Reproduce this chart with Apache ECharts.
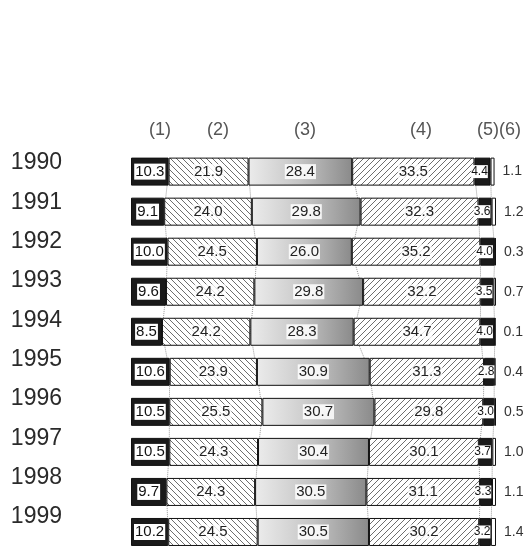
<!DOCTYPE html>
<html>
<head>
<meta charset="utf-8">
<script src="https://cdn.jsdelivr.net/npm/echarts@6/dist/echarts.min.js"></script>
<style>
  html, body { margin: 0; background: #fff; }
  #chart { width: 528px; height: 552px; }
</style>
</head>
<body>
<div id="chart"></div>
<script>
// shares per year, (1)..(6)
const years = ['1990', '1991', '1992', '1993', '1994', '1995', '1996', '1997', '1998', '1999'];
const s1 = [10.3, 9.1, 10.0, 9.6, 8.5, 10.6, 10.5, 10.5, 9.7, 10.2];
const s2 = [21.9, 24.0, 24.5, 24.2, 24.2, 23.9, 25.5, 24.3, 24.3, 24.5];
const s3 = [28.4, 29.8, 26.0, 29.8, 28.3, 30.9, 30.7, 30.4, 30.5, 30.5];
const s4 = [33.5, 32.3, 35.2, 32.2, 34.7, 31.3, 29.8, 30.1, 31.1, 30.2];
const s5 = [4.4, 3.6, 4.0, 3.5, 4.0, 2.8, 3.0, 3.7, 3.3, 3.2];
const s6 = [1.1, 1.2, 0.3, 0.7, 0.1, 0.4, 0.5, 1.0, 1.1, 1.4];
const headers = ['(1)', '(2)', '(3)', '(4)', '(5)(6)'];
const headerX = [160, 218, 305, 421, 499];

const FONT = '"Liberation Sans", Arial, sans-serif';

// diagonal hatch tile
const hatch = (forward) => {
  const s = 6;
  const c = document.createElement('canvas');
  c.width = s; c.height = s;
  const g = c.getContext('2d');
  g.fillStyle = '#fff';
  g.fillRect(0, 0, s, s);
  g.strokeStyle = '#6e6e6e';
  g.lineWidth = 1;
  g.beginPath();
  if (forward) {
    g.moveTo(0, s); g.lineTo(s, 0);
    g.moveTo(-1, 1); g.lineTo(1, -1);
    g.moveTo(s - 1, s + 1); g.lineTo(s + 1, s - 1);
  } else {
    g.moveTo(0, 0); g.lineTo(s, s);
    g.moveTo(-1, s - 1); g.lineTo(1, s + 1);
    g.moveTo(s - 1, -1); g.lineTo(s + 1, 1);
  }
  g.stroke();
  return c;
};

const fmt = (p) => p.value.toFixed(1);

const barBase = {
  type: 'bar',
  stack: 'total',
  xAxisIndex: 0,
  yAxisIndex: 0,
  barWidth: 28,
  z: 3,
  itemStyle: { borderColor: '#111', borderWidth: 1 },
};

const midLabel = {
  show: true, position: 'inside', formatter: fmt, fontSize: 15,
  color: '#222', backgroundColor: 'rgba(255,255,255,0.8)', padding: [0, 1],
};

// dotted connectors between segment boundaries
const parts = [s1, s2, s3, s4, s5];
const cum = years.map(() => 0);
const connectors = parts.map((arr) => {
  arr.forEach((v, i) => { cum[i] += v; });
  return {
    type: 'line',
    xAxisIndex: 0,
    yAxisIndex: 0,
    data: cum.map((v, i) => [v, i]),
    symbol: 'none',
    silent: true,
    z: 1,
    lineStyle: { color: '#999', width: 1, type: 'dotted' },
  };
});

const chart = echarts.init(document.getElementById('chart'));

chart.setOption({
  animation: false,
  backgroundColor: '#fff',
  textStyle: { fontFamily: FONT },
  grid: [
    { left: 131, width: 365, top: 151.6, height: 408.8 },
    { left: 70, width: 10, top: 143.3, height: 393.4 },
  ],
  xAxis: [
    { type: 'value', gridIndex: 0, min: 0, max: 100, show: false },
    { type: 'value', gridIndex: 1, show: false },
  ],
  yAxis: [
    { type: 'category', gridIndex: 0, data: years, inverse: true, show: false },
    {
      type: 'category', gridIndex: 1, data: years, inverse: true,
      axisLine: { show: false }, axisTick: { show: false },
      axisLabel: { fontSize: 23, color: '#2a2a2a', margin: 8, fontFamily: FONT },
    },
  ],
  graphic: headers.map((t, i) => ({
    type: 'text',
    x: headerX[i],
    y: 130,
    style: {
      text: t, fill: '#555', fontSize: 18, fontFamily: FONT,
      align: 'center', verticalAlign: 'middle',
    },
  })),
  series: [
    ...connectors,
    {
      ...barBase, name: '(1)', data: s1,
      itemStyle: { ...barBase.itemStyle, color: '#1a1a1a' },
      label: {
        show: true, position: 'inside', formatter: fmt, fontSize: 15,
        color: '#111', backgroundColor: '#fff', padding: [1, 1, 0, 1],
      },
    },
    {
      ...barBase, name: '(2)', data: s2,
      itemStyle: { ...barBase.itemStyle, color: { image: hatch(false), repeat: 'repeat' } },
      label: midLabel,
    },
    {
      ...barBase, name: '(3)', data: s3,
      itemStyle: {
        ...barBase.itemStyle,
        color: {
          type: 'linear', x: 0, y: 0, x2: 1, y2: 0,
          colorStops: [
            { offset: 0, color: '#ebebeb' },
            { offset: 0.5, color: '#c4c4c4' },
            { offset: 1, color: '#8a8a8a' },
          ],
        },
      },
      label: { ...midLabel, backgroundColor: 'rgba(255,255,255,0.85)' },
    },
    {
      ...barBase, name: '(4)', data: s4,
      itemStyle: { ...barBase.itemStyle, color: { image: hatch(true), repeat: 'repeat' } },
      label: midLabel,
    },
    {
      ...barBase, name: '(5)', data: s5,
      itemStyle: { ...barBase.itemStyle, color: '#1a1a1a' },
      label: {
        show: true, position: 'inside', formatter: fmt, fontSize: 12, offset: [-3, 0],
        color: '#111', backgroundColor: '#fff', padding: [1, 0, 0, 0],
      },
    },
    {
      ...barBase, name: '(6)', data: s6,
      itemStyle: { ...barBase.itemStyle, color: '#fff' },
      label: {
        show: true, position: 'right', distance: 8, formatter: fmt,
        fontSize: 14, color: '#333',
      },
    },
  ],
});
</script>
</body>
</html>
